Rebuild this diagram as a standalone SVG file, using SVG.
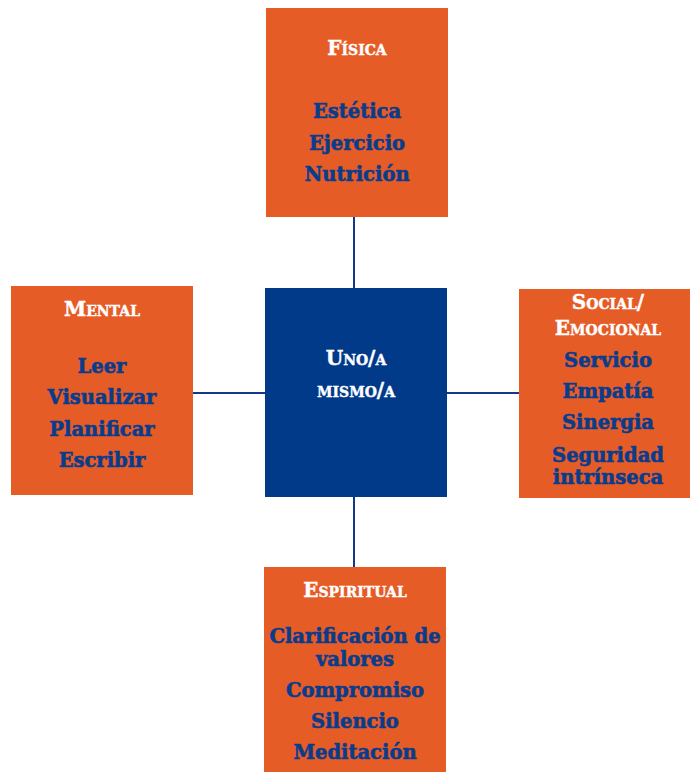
<svg xmlns="http://www.w3.org/2000/svg" width="690" height="772" viewBox="0 0 690 772">
<style>
.box{fill:#E65C27}
.core{fill:#013A89}
.ttl{font-family:"DejaVu Serif",serif;font-weight:bold;font-variant:small-caps;font-size:20px;fill:#ffffff;stroke:#ffffff;stroke-width:0.4;text-anchor:middle}
.item{font-family:"DejaVu Serif",serif;font-weight:bold;font-size:19.5px;fill:#0A3C8C;stroke:#0A3C8C;stroke-width:0.6;text-anchor:middle}
.con{stroke:#13378A;stroke-width:2;fill:none}
</style>
<rect width="690" height="772" fill="#ffffff"/>
<g id="connectors">
<line class="con" x1="354" y1="217" x2="354" y2="288"/>
<line class="con" x1="354" y1="497" x2="354" y2="568"/>
<line class="con" x1="193" y1="393" x2="265" y2="393"/>
<line class="con" x1="447" y1="393" x2="519" y2="393"/>
</g>
<g id="fisica">
<rect class="box" x="266" y="8" width="182" height="209"/>
<text class="ttl" x="357" y="55">Física</text>
<text class="item" x="357" y="118">Estética</text>
<text class="item" x="357" y="150">Ejercicio</text>
<text class="item" x="357" y="181">Nutrición</text>
</g>
<g id="mental">
<rect class="box" x="11" y="286" width="182" height="209"/>
<text class="ttl" x="102" y="316">Mental</text>
<text class="item" x="102" y="373">Leer</text>
<text class="item" x="102" y="404">Visualizar</text>
<text class="item" x="102" y="436">Planificar</text>
<text class="item" x="102" y="467">Escribir</text>
</g>
<g id="centro">
<rect class="core" x="265" y="288" width="182" height="209"/>
<text class="ttl" x="356" y="365">Uno/a</text>
<text class="ttl" x="356" y="397">mismo/a</text>
</g>
<g id="social">
<rect class="box" x="519" y="289" width="171" height="209"/>
<text class="ttl" x="608" y="309">Social/</text>
<text class="ttl" x="608" y="335">Emocional</text>
<text class="item" x="608" y="367">Servicio</text>
<text class="item" x="608" y="398">Empatía</text>
<text class="item" x="608" y="429">Sinergia</text>
<text class="item" x="608" y="462">Seguridad</text>
<text class="item" x="608" y="484">intrínseca</text>
</g>
<g id="espiritual">
<rect class="box" x="264" y="567" width="182" height="205"/>
<text class="ttl" x="355" y="597">Espiritual</text>
<text class="item" x="355" y="643">Clarificación de</text>
<text class="item" x="355" y="666">valores</text>
<text class="item" x="355" y="697">Compromiso</text>
<text class="item" x="355" y="728">Silencio</text>
<text class="item" x="355" y="759">Meditación</text>
</g>
</svg>
